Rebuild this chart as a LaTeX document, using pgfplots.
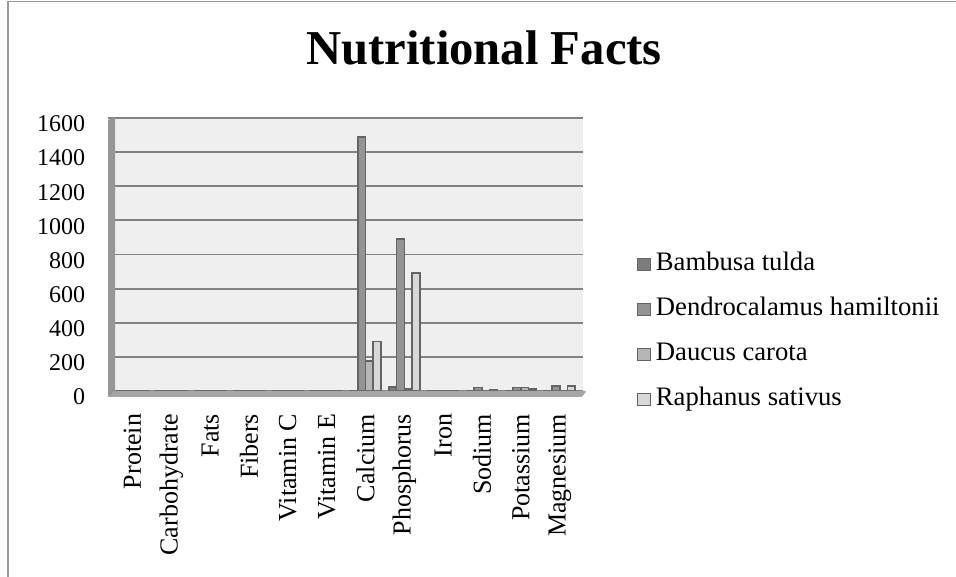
\documentclass[border=0pt]{standalone}
\usepackage{fontspec}
\setmainfont{Liberation Serif}
\usepackage{pgfplots}
\pgfplotsset{compat=1.18}
\usetikzlibrary{calc}

\definecolor{sBT}{RGB}{125,125,125}
\definecolor{sDH}{RGB}{148,148,148}
\definecolor{sDC}{RGB}{182,182,182}
\definecolor{sRS}{RGB}{216,216,216}
\definecolor{edge}{RGB}{100,100,100}
\definecolor{gridc}{RGB}{130,130,130}
\definecolor{wall}{RGB}{239,239,239}
\definecolor{floorc}{RGB}{150,150,150}

\begin{document}
\begin{tikzpicture}
\useasboundingbox (0,0) rectangle (717pt,432.75pt);
% chart area border (left and top edges)
\draw[gray!80, line width=0.9pt] (6pt,0) -- (6pt,431.4pt) -- (717pt,431.4pt);
% title
\node[font=\fontsize{36.5}{40}\selectfont\bfseries, anchor=base, inner sep=0pt]
  at (363pt,384pt) {Nutritional Facts};

\begin{axis}[
  at={(81pt,139.5pt)}, anchor=south west,
  scale only axis, width=356.25pt, height=204.75pt,
  ybar=0pt, bar width=5.8pt,
  xmin=-0.63, xmax=11.6, ymin=0, ymax=1600,
  enlargelimits=false,
  xtick={0,...,11},
  xticklabels={Protein,Carbohydrate,Fats,Fibers,Vitamin C,Vitamin E,Calcium,Phosphorus,Iron,Sodium,Potassium,Magnesium},
  ytick={0,200,...,1600},
  major tick length=0pt,
  axis line style={draw=none},
  ymajorgrids, grid style={gridc, line width=1.4pt},
  axis background/.style={fill=wall},
  /pgf/number format/assume math mode=true,
  /pgf/number format/1000 sep={},
  yticklabel style={font=\fontsize{18}{20}\selectfont, inner sep=0pt,
    anchor=east, xshift=-17pt, yshift=-4.5pt},
  xticklabel style={font=\fontsize{19.5}{22}\selectfont, inner sep=0pt,
    rotate=90, anchor=east},
  xticklabel shift=17pt,
  legend style={at={(1.1137,0.218)}, anchor=west, draw=none, fill=none,
    inner sep=0pt, font=\fontsize{20}{22}\selectfont, row sep=15.75pt,
    column sep=4pt,
    nodes={inner ysep=0pt, inner xsep=0pt, text height=14pt, text depth=4pt}},
  legend cell align=left,
  legend image code/.code={\draw[#1, draw=edge, line width=0.5pt] (0pt,-4.6pt) rectangle (9.5pt,4.6pt);},
  every axis plot/.append style={draw=edge, line width=1.2pt},
]
\addplot[fill=sBT] coordinates {
  (0,1) (1,2) (2,0.5) (3,1) (4,0.5) (5,0.5) (6,1) (7,25) (8,0.5) (9,1) (10,2) (11,2)};
\addplot[fill=sDH] coordinates {
  (0,1.5) (1,2) (2,0.5) (3,1) (4,0.5) (5,0.5) (6,1490) (7,890) (8,1) (9,20) (10,20) (11,30)};
\addplot[fill=sDC] coordinates {
  (0,1) (1,2) (2,0.5) (3,1) (4,1) (5,0.5) (6,175) (7,13) (8,0.5) (9,1) (10,20) (11,3)};
\addplot[fill=sRS] coordinates {
  (0,1) (1,2) (2,0.5) (3,1) (4,1) (5,0.5) (6,290) (7,690) (8,0.5) (9,8) (10,10) (11,30)};
\legend{Bambusa tulda, Dendrocalamus hamiltonii, Daucus carota, Raphanus sativus}
\end{axis}
% floor and side wall of the plot box
\coordinate (SW) at (current axis.south west);
\coordinate (SE) at (current axis.south east);
\coordinate (NW) at (current axis.north west);
\fill[floorc!85] ($(SW)+(0,-4.5pt)$) -- ($(SE)+(-1pt,-4.5pt)$)
   -- ($(SE)+(2pt,-1pt)$) -- ($(SE)+(2pt,0pt)$)
   -- ($(SW)+(5.25pt,0pt)$) -- cycle;
\fill[floorc] ($(SW)+(0,-4.5pt)$) -- ($(NW)+(0,-1.5pt)$)
   -- ($(NW)+(5.25pt,0.6pt)$) -- ($(SW)+(5.25pt,0pt)$) -- cycle;
\end{tikzpicture}
\end{document}
